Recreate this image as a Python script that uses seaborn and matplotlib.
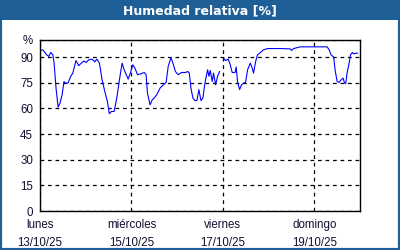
import numpy as np
import pandas as pd
import matplotlib
matplotlib.use("Agg")
import matplotlib.pyplot as plt
from matplotlib.patches import Rectangle
import seaborn as sns

# hours since Mon 13/10/25 00:00
hours_a = [0.4, 1.7, 3.5, 4.6, 5.6, 6.7, 7.4, 8.4, 9.5, 10.5, 11.6, 12.6, 13.3, 14.7,
           16.1, 17.2, 18.9, 20.3, 21.7, 23.1, 24.2, 25.6, 27.3, 28.8, 29.8, 31.2,
           32.6, 34.0, 35.4, 36.4, 37.5, 38.9, 40.3, 41.7, 43.1, 44.2, 46.3, 47.7,
           48.7, 49.8, 51.2, 52.9, 54.7, 55.7, 56.4, 57.8, 58.9, 59.9, 61.3, 63.1,
           64.8, 66.2, 67.3, 68.7, 69.8, 71.1, 72.5, 74.3, 76.4, 77.6, 78.4, 79.2,
           80.3, 81.3, 82.4, 83.4, 84.5, 85.5, 86.6, 88.0, 88.7, 89.4, 90.4, 91.1,
           92.2, 93.2, 94.3]
humidity_a = [94.3, 94.0, 91.3, 90.4, 92.7, 91.5, 86.5, 72.0, 60.8, 63.0, 68.0, 75.7, 74.8, 74.8,
              78.7, 80.6, 88.0, 85.0, 86.5, 87.7, 86.8, 88.4, 88.8, 87.3, 88.8, 86.5,
              76.7, 70.0, 64.0, 56.9, 58.2, 58.2, 66.0, 76.7, 86.5, 82.6, 77.1, 81.6,
              85.5, 83.6, 79.7, 80.2, 81.0, 79.7, 69.0, 62.1, 65.0, 66.0, 68.0, 72.0,
              73.8, 75.2, 84.5, 89.6, 86.5, 81.6, 79.7, 81.0, 81.0, 81.6, 80.6, 72.0,
              66.0, 64.6, 64.6, 71.0, 64.6, 66.0, 74.8, 82.6, 78.7, 82.2, 75.7, 80.6,
              73.8, 78.7, 81.6]
hours_b = [96.4, 97.4, 98.8, 99.9, 100.9, 102.4, 103.0, 103.7, 104.8, 105.8, 106.9,
           107.9, 109.0, 110.4, 111.4, 112.1, 113.2, 114.2, 115.7, 117.4, 119.5,
           122.6, 126.2, 131.4, 132.1, 133.2, 136.7, 143.7, 150.7, 151.8, 152.8,
           154.2, 154.9, 156.0, 157.0, 158.1, 159.1, 159.8, 160.5, 161.2, 162.3,
           163.0, 164.0, 164.7, 165.8, 166.8]
humidity_b = [89.4, 88.0, 88.8, 85.5, 81.0, 81.0, 84.2, 75.7, 71.0, 73.8, 74.8,
              75.2, 82.6, 86.5, 83.6, 80.6, 87.4, 91.3, 92.7, 94.3, 95.0,
              95.0, 95.0, 94.8, 93.9, 95.0, 96.0, 96.0, 96.0, 94.3, 91.3,
              90.0, 82.6, 75.7, 75.2, 76.7, 77.7, 75.2, 74.4, 80.6, 86.5,
              91.3, 92.7, 91.9, 92.3, 92.3]

yticks = [0, 15, 30, 45, 60, 75, 90, 100]
ytick_labels = ["0", "15", "30", "45", "60", "75", "90", "%"]
xtick_hours = [0, 48, 96, 144]
xtick_labels = ["lunes\n13/10/25", "miércoles\n15/10/25", "viernes\n17/10/25", "domingo\n19/10/25"]
minor_hours = [24, 72, 120, 168]
title = "Humedad relativa [%]"

df = pd.DataFrame({
    "hora": hours_a + hours_b,
    "hr": humidity_a + humidity_b,
    "seg": ["a"] * len(hours_a) + ["b"] * len(hours_b),
})

sns.set_style("white")
plt.rcParams["font.family"] = ["Liberation Sans", "DejaVu Sans"]

blue = "#1f5f97"
fig = plt.figure(figsize=(4, 2.5), dpi=100)
fig.patch.set_facecolor("white")
# frame and title bar
fig.patches.append(Rectangle((0, 0), 1, 1, transform=fig.transFigure, fill=False,
                             edgecolor=blue, linewidth=3, zorder=0))
fig.patches.append(Rectangle((0, 1 - 20 / 250), 1, 20 / 250, transform=fig.transFigure,
                             facecolor=blue, edgecolor="none", zorder=1))
fig.text(0.5, 1 - 10.5 / 250, title, ha="center", va="center", color="white",
         fontsize=9, fontweight="bold", family=["DejaVu Sans"])

ax = fig.add_axes([40 / 400, 39 / 250, 320 / 400, 171 / 250])
sns.lineplot(data=df, x="hora", y="hr", units="seg", estimator=None, ax=ax,
             color="#0000ff", linewidth=0.8)

ax.set_xlim(0, 168)
ax.set_ylim(0, 100)
ax.set_yticks(yticks)
ax.set_yticklabels(ytick_labels)
ax.set_xticks(xtick_hours)
ax.set_xticklabels(xtick_labels, linespacing=1.6)
ax.set_xticks(minor_hours, minor=True)
ax.set_xlabel("")
ax.set_ylabel("")
ax.tick_params(axis="both", which="both", direction="out", length=3, width=1,
               colors="black", labelsize=8.3, pad=2)
ax.tick_params(axis="x", which="major", pad=3)
for lbl in ax.get_yticklabels() + ax.get_xticklabels():
    lbl.set_color("#101030")
for s in ax.spines.values():
    s.set_visible(True)
    s.set_color("black")
    s.set_linewidth(1)
ax.grid(True, which="major", color="black", linestyle=(0, (3, 3)), linewidth=0.9)
ax.grid(False, which="minor")
ax.set_axisbelow(True)

fig.savefig("out.png", dpi=100)
